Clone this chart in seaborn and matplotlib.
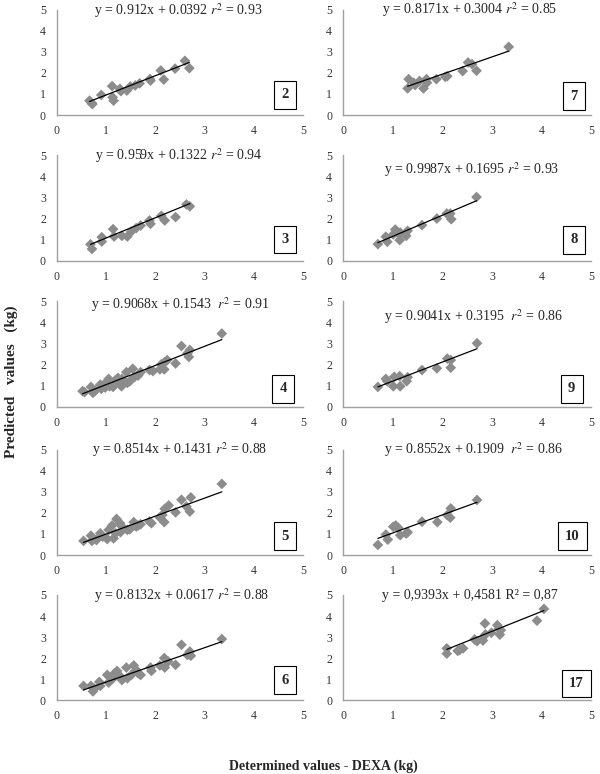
import numpy as np
import pandas as pd
import matplotlib
matplotlib.use("Agg")
import matplotlib.pyplot as plt
import seaborn as sns

# panel ids, fitted equations
panels = ["2", "3", "4", "5", "6", "7", "8", "9", "10", "17"]
slopes = [0.912, 0.959, 0.9068, 0.8514, 0.8132, 0.8171, 0.9987, 0.9041, 0.8552, 0.9393]
intercepts = [0.0392, 0.1322, 0.1543, 0.1431, 0.0617, 0.3004, 0.1695, 0.3195, 0.1909, 0.4581]
equations = [
    "y = 0.912x + 0.0392 $r^2$ = 0.93",
    "y = 0.959x + 0.1322 $r^2$ = 0.94",
    "y = 0.9068x + 0.1543  $r^2$ = 0.91",
    "y = 0.8514x + 0.1431 $r^2$ = 0.88",
    "y = 0.8132x + 0.0617 $r^2$ = 0.88",
    "y = 0.8171x + 0.3004 $r^2$ = 0.85",
    "y = 0.9987x + 0.1695 $r^2$ = 0.93",
    "y = 0.9041x + 0.3195  $r^2$ = 0.86",
    "y = 0.8552x + 0.1909  $r^2$ = 0.86",
    "y = 0,9393x + 0,4581 R² = 0,87",
]

x_2 = [0.66, 0.70, 0.72, 0.90, 1.12, 1.13, 1.15, 1.28, 1.30, 1.42, 1.49, 1.59, 1.68, 1.89, 1.90, 2.11, 2.17, 2.40, 2.60, 2.69]
y_2 = [0.68, 0.58, 0.52, 0.95, 1.37, 0.84, 0.68, 1.24, 1.13, 1.16, 1.35, 1.40, 1.50, 1.71, 1.63, 2.11, 1.68, 2.20, 2.57, 2.22]

x_3 = [0.68, 0.71, 0.91, 0.91, 1.14, 1.16, 1.32, 1.43, 1.51, 1.61, 1.70, 1.88, 1.90, 2.12, 2.19, 2.41, 2.63, 2.70]
y_3 = [0.79, 0.57, 1.13, 0.92, 1.51, 1.16, 1.19, 1.16, 1.40, 1.56, 1.68, 1.92, 1.76, 2.14, 1.92, 2.08, 2.68, 2.59]

x_4 = [0.52, 0.56, 0.69, 0.73, 0.78, 0.88, 0.90, 0.98, 1.00, 1.05, 1.07, 1.10, 1.14, 1.19, 1.24, 1.27, 1.31,
       1.32, 1.41, 1.43, 1.48, 1.54, 1.58, 1.65, 1.70, 1.88, 1.95, 2.09, 2.12, 2.18, 2.19, 2.24, 2.41, 2.53,
       2.65, 2.68, 2.70, 3.35]
y_4 = [0.75, 0.70, 0.95, 0.67, 0.78, 1.06, 0.86, 0.92, 1.17, 1.33, 0.98, 1.14, 0.95, 1.27, 1.38, 1.14, 0.98,
       1.33, 1.65, 1.14, 1.22, 1.81, 1.43, 1.49, 1.65, 1.75, 1.70, 1.78, 2.02, 1.78, 2.13, 2.22, 2.06, 2.89,
       2.54, 2.37, 2.70, 3.48]

x_5 = [0.54, 0.69, 0.71, 0.80, 0.88, 0.93, 1.02, 1.05, 1.12, 1.15, 1.19, 1.21, 1.28, 1.29, 1.32, 1.43, 1.48,
       1.56, 1.61, 1.65, 1.70, 1.88, 1.92, 2.09, 2.14, 2.18, 2.19, 2.27, 2.41, 2.53, 2.63, 2.70, 2.72, 3.35]
y_5 = [0.67, 0.92, 0.67, 0.71, 1.03, 0.87, 0.76, 1.19, 1.40, 0.79, 1.03, 1.71, 1.51, 1.08, 1.35, 1.19, 1.22,
       1.56, 1.35, 1.40, 1.46, 1.59, 1.51, 1.78, 1.90, 1.56, 2.19, 2.35, 2.02, 2.62, 2.30, 2.06, 2.73, 3.37]

x_6 = [0.54, 0.69, 0.73, 0.76, 0.86, 0.88, 1.02, 1.05, 1.14, 1.17, 1.22, 1.27, 1.32, 1.41, 1.43, 1.51, 1.56,
       1.61, 1.65, 1.70, 1.90, 1.92, 2.09, 2.18, 2.19, 2.26, 2.41, 2.53, 2.65, 2.70, 2.72, 3.35]
y_6 = [0.69, 0.69, 0.43, 0.56, 0.88, 0.69, 1.21, 0.85, 1.05, 1.29, 1.40, 1.18, 0.97, 1.56, 1.05, 1.21, 1.66,
       1.45, 1.29, 1.21, 1.56, 1.40, 1.66, 2.01, 1.56, 1.85, 1.69, 2.64, 2.16, 2.32, 2.12, 2.91]

x_7 = [1.30, 1.32, 1.42, 1.45, 1.54, 1.62, 1.68, 1.69, 1.88, 2.06, 2.10, 2.41, 2.52, 2.60, 2.69, 3.34]
y_7 = [1.26, 1.70, 1.53, 1.42, 1.61, 1.26, 1.70, 1.53, 1.70, 1.81, 1.84, 2.08, 2.49, 2.41, 2.10, 3.23]

x_8 = [0.70, 0.86, 0.89, 1.01, 1.05, 1.09, 1.14, 1.15, 1.27, 1.30, 1.59, 1.89, 2.09, 2.16, 2.18, 2.69]
y_8 = [0.80, 1.15, 0.91, 1.26, 1.49, 1.35, 0.99, 1.35, 1.19, 1.43, 1.70, 2.01, 2.25, 2.25, 1.98, 3.03]

x_9 = [0.70, 0.86, 0.89, 1.01, 1.03, 1.14, 1.15, 1.28, 1.30, 1.59, 1.89, 2.10, 2.17, 2.17, 2.70]
y_9 = [0.95, 1.33, 1.22, 0.98, 1.43, 1.46, 0.98, 1.22, 1.41, 1.75, 1.83, 2.29, 2.22, 1.86, 3.02]

x_10 = [0.70, 0.86, 0.90, 1.01, 1.06, 1.11, 1.15, 1.27, 1.30, 1.59, 1.90, 2.10, 2.16, 2.17, 2.70]
y_10 = [0.48, 0.97, 0.73, 1.34, 1.40, 1.29, 0.94, 1.02, 1.08, 1.58, 1.56, 1.89, 1.77, 2.21, 2.61]

x_17 = [2.09, 2.09, 2.31, 2.35, 2.42, 2.65, 2.70, 2.80, 2.82, 2.86, 2.87, 2.99, 3.11, 3.14, 3.16, 3.18, 3.91, 4.05]
y_17 = [2.47, 2.22, 2.35, 2.39, 2.47, 2.89, 2.81, 2.92, 2.84, 3.65, 3.13, 3.21, 3.57, 3.41, 3.12, 3.33, 3.78, 4.34]

xs = [x_2, x_3, x_4, x_5, x_6, x_7, x_8, x_9, x_10, x_17]
ys = [y_2, y_3, y_4, y_5, y_6, y_7, y_8, y_9, y_10, y_17]

rows = []
for p, xv, yv in zip(panels, xs, ys):
    for a, b in zip(xv, yv):
        rows.append({"panel": p, "det": a, "pred": b})
df = pd.DataFrame(rows)

sns.set_theme(style="white")
plt.rcParams["font.family"] = ["Liberation Serif", "DejaVu Serif"]
plt.rcParams["mathtext.fontset"] = "stix"

fig = plt.figure(figsize=(6, 7.74), dpi=100)

col_left = [0.095, 0.572]
col_width = [0.41, 0.413]
row_bottom = [0.8514, 0.6628, 0.4742, 0.2829, 0.0950]
height = 0.1363

# text positions per panel (data coords)
eq_pos = [(2.47, 4.95), (2.47, 4.98), (2.50, 4.86), (2.50, 4.98), (2.54, 4.98),
          (2.56, 4.98), (2.60, 4.33), (2.62, 4.29), (2.62, 4.98), (2.56, 4.98)]
box_pos = [(4.63, 0.95), (4.63, 1.02), (4.60, 0.86), (4.63, 0.90), (4.63, 0.97),
           (4.66, 0.90), (4.66, 1.00), (4.61, 0.86), (4.62, 0.90), (4.71, 0.81)]

for i, p in enumerate(panels):
    col = 0 if i < 5 else 1
    row = i % 5
    ax = fig.add_axes([col_left[col], row_bottom[row], col_width[col], height])
    sub = df[df["panel"] == p]
    sns.scatterplot(data=sub, x="det", y="pred", marker="D", s=30, color="#8c8c8c",
                    edgecolor="none", ax=ax, zorder=2)
    lx = np.array([sub["det"].min(), sub["det"].max()])
    ax.plot(lx, slopes[i] * lx + intercepts[i], color="black", lw=0.9, zorder=3)

    ax.set_xlim(0, 5)
    ax.set_ylim(0, 5)
    ax.set_xticks(range(6))
    ax.set_yticks(range(6))
    ax.set_xlabel("")
    ax.set_ylabel("")
    ax.tick_params(axis="x", length=0, pad=7, labelsize=8.5, colors="#333333")
    ax.tick_params(axis="y", length=0, pad=8, labelsize=8.5, colors="#333333")
    for s in ["top", "right"]:
        ax.spines[s].set_visible(False)
    for s in ["left", "bottom"]:
        ax.spines[s].set_color("#a0a0a0")
        ax.spines[s].set_linewidth(1.0)
    ax.patch.set_alpha(0)

    ax.text(eq_pos[i][0], eq_pos[i][1], equations[i], ha="center", va="center",
            fontsize=10, clip_on=False)
    ax.text(box_pos[i][0], box_pos[i][1], p, ha="center", va="center", fontsize=10.5,
            fontweight="bold",
            bbox=dict(boxstyle="square,pad=0.5", facecolor="white", edgecolor="black", linewidth=0.8))

fig.text(11 / 600, 1 - 382 / 774, "Predicted   values   (kg)", rotation=90, ha="center",
         va="center", fontsize=11, fontweight="bold")
fig.text(323 / 600, 1 - 766 / 774, "Determined values - DEXA (kg)", ha="center",
         va="center", fontsize=10, fontweight="bold")

fig.savefig("out.png", dpi=100)
